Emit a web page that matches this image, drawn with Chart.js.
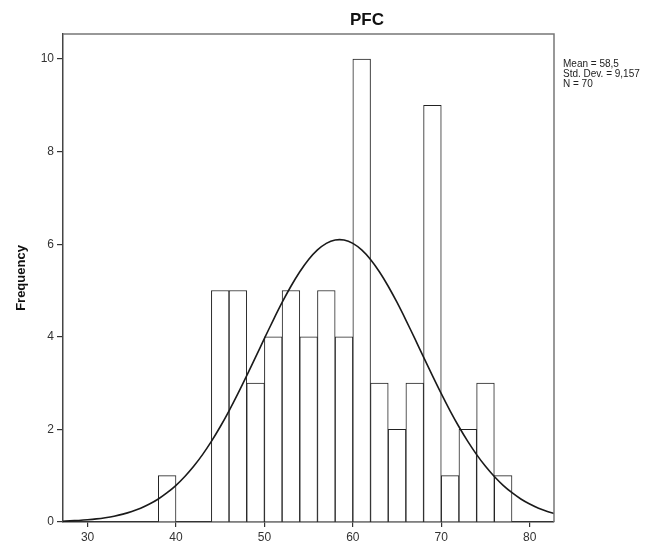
<!DOCTYPE html>
<html><head><meta charset="utf-8">
<script src="https://cdn.jsdelivr.net/npm/chart.js@4.4.0/dist/chart.umd.min.js"></script>
<style>html,body{margin:0;padding:0;background:#fff;}#wrap{width:666px;height:550px;position:relative;}</style>
</head><body><div id="wrap"><canvas id="c" width="666" height="550"></canvas></div>
<script>
// Histogram bins (bin width 2) and frequencies
const binCenters = [39,41,43,45,47,49,51,53,55,57,59,61,63,65,67,69,71,73,75,77];
const binCounts  = [1,0,0,5,5,3,4,5,4,5,4,10,3,2,3,9,1,2,3,1];
// Normal curve
const curveX = [27,28,29,30,31,32,33,34,35,36,37,38,39,40,41,42,43,44,45,46,47,48,49,50,51,52,53,54,55,56,57,58,59,60,61,62,63,64,65,66,67,68,69,70,71,72,73,74,75,76,77,78,79,80,81,82,83];
const curveY = [0.016,0.024,0.034,0.048,0.067,0.093,0.126,0.170,0.227,0.298,0.388,0.497,0.632,0.792,0.983,1.203,1.455,1.741,2.057,2.402,2.772,3.161,3.561,3.964,4.361,4.741,5.092,5.405,5.670,5.876,6.018,6.090,6.090,6.018,5.876,5.670,5.405,5.092,4.741,4.361,3.964,3.561,3.161,2.772,2.402,2.057,1.741,1.455,1.203,0.983,0.792,0.632,0.497,0.388,0.298,0.227,0.170];
const xTicks = [30,40,50,60,70,80];
const yTicks = [0,2,4,6,8,10];
const chartTitle = 'PFC';
const yAxisTitle = 'Frequency';
const statsLines = ['Mean = 58,5','Std. Dev. = 9,157','N = 70'];

const FONT = 'Arial, "Liberation Sans", sans-serif';

const framePlugin = {
  id: 'frame',
  afterDraw(chart) {
    const {ctx, chartArea: a} = chart;
    ctx.save();
    ctx.strokeStyle = '#777';
    ctx.lineWidth = 1.5;
    ctx.beginPath();
    ctx.moveTo(a.left, a.top);
    ctx.lineTo(a.right, a.top);
    ctx.lineTo(a.right, a.bottom);
    ctx.stroke();
    ctx.fillStyle = '#111';
    ctx.font = 'bold 17px ' + FONT;
    ctx.textAlign = 'center';
    ctx.textBaseline = 'alphabetic';
    ctx.fillText(chartTitle, 367, 25);
    ctx.fillStyle = '#222';
    ctx.font = '10px ' + FONT;
    ctx.textAlign = 'left';
    statsLines.forEach((t, i) => ctx.fillText(t, 563, 67 + i * 10));
    ctx.restore();
  }
};

new Chart(document.getElementById('c'), {
  type: 'bar',
  data: {
    datasets: [
      {
        type: 'line',
        data: curveX.map((x, i) => ({x: x, y: curveY[i]})),
        borderColor: '#1a1a1a',
        borderWidth: 1.6,
        pointRadius: 0,
        tension: 0.3,
        fill: false,
        order: 0
      },
      {
        type: 'bar',
        data: binCenters.map((x, i) => ({x: x, y: binCounts[i]})),
        backgroundColor: '#ffffff',
        borderColor: '#222',
        borderWidth: 1,
        barPercentage: 1,
        categoryPercentage: 1,
        order: 1
      }
    ]
  },
  options: {
    responsive: false,
    animation: false,
    devicePixelRatio: 1,
    layout: {padding: {top: 34, right: 112, left: 0, bottom: 0}},
    plugins: {legend: {display: false}, tooltip: {enabled: false}, title: {display: false}},
    scales: {
      x: {
        type: 'linear',
        offset: false,
        min: 27.22,
        max: 82.75,
        afterBuildTicks: s => { s.ticks = xTicks.map(v => ({value: v})); },
        afterFit: s => { s.height = 28; },
        grid: {display: true, offset: false, drawOnChartArea: false, drawTicks: true, tickLength: 5, color: '#333', lineWidth: 1.2},
        border: {display: true, color: '#333', width: 1.5},
        ticks: {color: '#333', font: {family: FONT, size: 12}, padding: 3, maxRotation: 0, autoSkip: false}
      },
      y: {
        type: 'linear',
        min: 0,
        max: 10.54,
        afterBuildTicks: s => { s.ticks = yTicks.map(v => ({value: v})); },
        afterFit: s => { s.width = 63; },
        grid: {display: true, drawOnChartArea: false, drawTicks: true, tickLength: 6, color: '#333', lineWidth: 1.2},
        border: {display: true, color: '#444', width: 1.5},
        ticks: {color: '#333', font: {family: FONT, size: 12}, padding: 3, autoSkip: false},
        title: {display: true, text: yAxisTitle, color: '#111', font: {family: FONT, size: 13, weight: 'bold'}, padding: {top: 14, bottom: 0}}
      }
    }
  },
  plugins: [framePlugin]
});
</script>
</body></html>
